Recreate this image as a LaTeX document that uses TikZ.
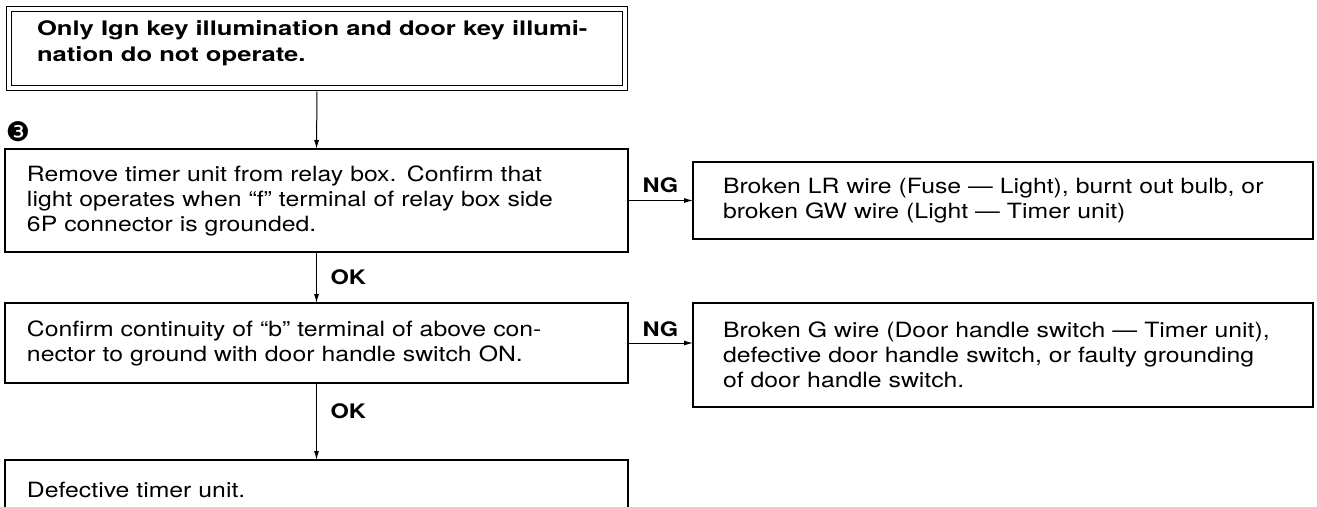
\documentclass[tikz,border=0pt]{standalone}
\usepackage{fontspec}
\setmainfont{TeX Gyre Heros}[FakeStretch=1.18]
\newfontfamily\titlefont{TeX Gyre Heros}[FakeStretch=1.28]
\newfontfamily\dingfont{DejaVu Sans}
\usetikzlibrary{arrows.meta}
\begin{document}
\begin{tikzpicture}[x=1pt,y=-1pt,
  every node/.style={inner sep=0pt,outer sep=0pt},
  bodyfont/.style={font=\fontsize{21}{25}\selectfont},
  stepbox/.style={draw,line width=1.3pt,rectangle,bodyfont,align=left,
    text width=579pt,inner xsep=22pt},
  resbox/.style={draw,line width=1.3pt,rectangle,bodyfont,align=left,
    text width=560pt,inner xsep=30pt},
  framebox/.style={draw,line width=1.3pt,double,double distance=4.2pt,rectangle},
  arr/.style={line width=1pt,-{Latex[length=9pt,width=5pt]}},
  lbl/.style={font=\fontsize{20}{22}\selectfont\bfseries}]
\useasboundingbox (0,0) rectangle (1317,506);
\clip (0,0) rectangle (1317,506);

% title box
\node[framebox,minimum width=616pt,minimum height=79pt] (top) at (317,48.5) {};
\node[anchor=north west,align=left,font=\titlefont\bfseries\fontsize{20}{26}\selectfont]
  (toptext) at (37,21) {Only Ign key illumination and door key illumi-\\nation do not operate.};

% step marker
\node[font=\dingfont\fontsize{27}{27}\selectfont] (mark) at (18,132) {❸};

% left column
\node[stepbox,minimum height=103pt] (b1) at (316.5,200.5)
  {Remove timer unit from relay box. Confirm that\\light operates when ``f'' terminal of relay box side\\6P connector is grounded.};
\node[stepbox,minimum height=80pt] (b2) at (316.5,343)
  {Confirm continuity of ``b'' terminal of above con-\\nector to ground with door handle switch ON.};
\node[stepbox,minimum height=60pt] (b3) at (316.5,490) {Defective timer unit.};

% right column
\node[resbox,minimum height=77pt] (r1) at (1003,200.5)
  {Broken LR wire (Fuse — Light), burnt out bulb, or\\broken GW wire (Light — Timer unit)};
\node[resbox,minimum height=104pt] (r2) at (1003,355)
  {Broken G wire (Door handle switch — Timer unit),\\defective door handle switch, or faulty grounding\\of door handle switch.};

% connectors
\draw[arr] ([yshift=-3.5pt]top.south) -- (b1.north);
\draw[arr] (b1.south) -- node[lbl,pos=0.5,anchor=west,xshift=14pt] (ok1) {OK} (b2.north);
\draw[arr] (b2.south) -- node[lbl,pos=0.36,anchor=west,xshift=14pt] (ok2) {OK} (b3.north);
\draw[arr] (b1.east) -- node[lbl,anchor=south,yshift=8pt] (ng1) {NG} (r1.west);
\draw[arr] (b2.east) -- node[lbl,anchor=south,yshift=6pt] (ng2) {NG} (b2.east -| r2.west);
\end{tikzpicture}
\end{document}
